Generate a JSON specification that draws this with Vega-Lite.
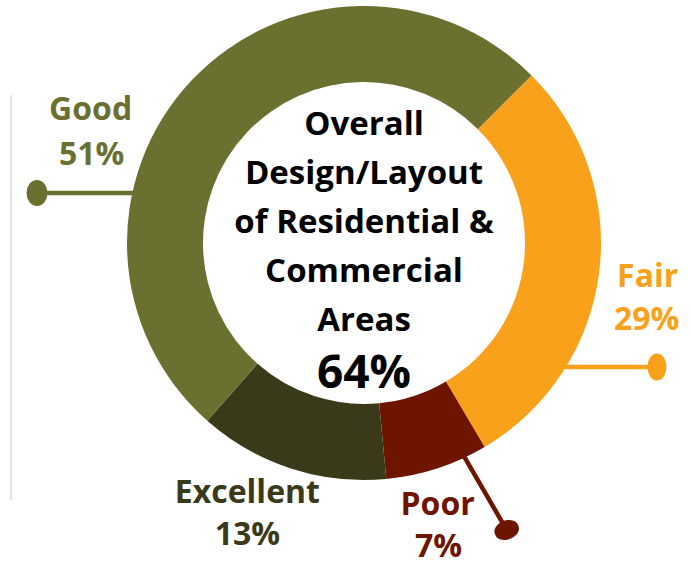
{
  "$schema": "https://vega.github.io/schema/vega-lite/v6.json",
  "autosize": {"type": "none"},
  "width": 654,
  "height": 486,
  "padding": {"left": 37, "top": 0, "right": 0, "bottom": 76},
  "background": "white",
  "config": {"view": {"stroke": null}, "text": {"font": "Open Sans", "fontWeight": "bold"}},
  "data": {"values": [
    {"cat": "Fair", "pct": 0.29, "rank": 1},
    {"cat": "Poor", "pct": 0.07, "rank": 2},
    {"cat": "Excellent", "pct": 0.13, "rank": 3},
    {"cat": "Good", "pct": 0.51, "rank": 4}
  ]},
  "layer": [
    {
      "transform": [{"filter": "datum.cat === 'Good'"}],
      "mark": {"type": "point", "shape": "M -3.53 -1.48 L -3.53 2.57", "size": 40000, "filled": false, "fill": null, "stroke": "#D9D9D9", "strokeWidth": 1.5, "opacity": 1},
      "encoding": {}
    },
    {
      "transform": [{"filter": "datum.cat === 'Good'"}],
      "mark": {"type": "point", "shape": "M -3.27 -0.5 L -2.20 -0.5 M -3.3525 -0.5 A 0.0825 0.1075 0 1 0 -3.1875 -0.5 A 0.0825 0.1075 0 1 0 -3.3525 -0.5 Z", "size": 40000, "filled": true, "fill": "#6B7030", "stroke": "#6B7030", "strokeWidth": 4.5, "opacity": 1},
      "encoding": {}
    },
    {
      "transform": [{"filter": "datum.cat === 'Fair'"}],
      "mark": {"type": "point", "shape": "M 1.90 1.24 L 2.93 1.24 M 2.8575 1.24 A 0.0725 0.1125 0 1 0 3.0025 1.24 A 0.0725 0.1125 0 1 0 2.8575 1.24 Z", "size": 40000, "filled": true, "fill": "#F9A11B", "stroke": "#F9A11B", "strokeWidth": 4.5, "opacity": 1},
      "encoding": {}
    },
    {
      "transform": [{"filter": "datum.cat === 'Poor'"}],
      "mark": {"type": "point", "shape": "M 0.96 2.063 L 1.427 2.87 M 1.3307 2.9051 A 0.1025 0.0725 -20 1 0 1.5233 2.8349 A 0.1025 0.0725 -20 1 0 1.3307 2.9051 Z", "size": 40000, "filled": true, "fill": "#6E1500", "stroke": "#6E1500", "strokeWidth": 4.5, "opacity": 1},
      "encoding": {}
    },
    {
      "mark": {"type": "arc", "innerRadius": 161, "outerRadius": 237},
      "encoding": {
        "theta": {"field": "pct", "type": "quantitative", "stack": true, "scale": {"range": [0.7853981634, 7.0685834706]}},
        "order": {"field": "rank", "type": "quantitative"},
        "color": {"field": "cat", "type": "nominal", "scale": {"domain": ["Fair", "Poor", "Excellent", "Good"], "range": ["#F9A11B", "#6E1500", "#3A3A1A", "#6B7030"]}, "legend": null}
      }
    },
    {
      "mark": {"type": "text", "radius": 290, "dx": -4, "dy": -2, "fontSize": 32, "align": "center", "baseline": "middle"},
      "encoding": {
        "theta": {"field": "pct", "type": "quantitative", "stack": true},
        "order": {"field": "rank", "type": "quantitative"},
        "color": {"field": "cat", "type": "nominal", "legend": null},
        "text": {"condition": {"test": "datum.cat === 'Fair'", "field": "cat", "type": "nominal"}, "value": ""}
      }
    },
    {
      "mark": {"type": "text", "radius": 290, "dx": -5, "dy": 41, "fontSize": 32, "align": "center", "baseline": "middle"},
      "encoding": {
        "theta": {"field": "pct", "type": "quantitative", "stack": true},
        "order": {"field": "rank", "type": "quantitative"},
        "color": {"field": "cat", "type": "nominal", "legend": null},
        "text": {"condition": {"test": "datum.cat === 'Fair'", "field": "pct", "type": "quantitative", "format": ".0%"}, "value": ""}
      }
    },
    {
      "mark": {"type": "text", "radius": 290, "dx": -16, "dy": -14, "fontSize": 32, "align": "center", "baseline": "middle"},
      "encoding": {
        "theta": {"field": "pct", "type": "quantitative", "stack": true},
        "order": {"field": "rank", "type": "quantitative"},
        "color": {"field": "cat", "type": "nominal", "legend": null},
        "text": {"condition": {"test": "datum.cat === 'Poor'", "field": "cat", "type": "nominal"}, "value": ""}
      }
    },
    {
      "mark": {"type": "text", "radius": 290, "dx": -15, "dy": 28, "fontSize": 32, "align": "center", "baseline": "middle"},
      "encoding": {
        "theta": {"field": "pct", "type": "quantitative", "stack": true},
        "order": {"field": "rank", "type": "quantitative"},
        "color": {"field": "cat", "type": "nominal", "legend": null},
        "text": {"condition": {"test": "datum.cat === 'Poor'", "field": "pct", "type": "quantitative", "format": ".0%"}, "value": ""}
      }
    },
    {
      "mark": {"type": "text", "radius": 290, "dx": -27, "dy": -26, "fontSize": 32, "align": "center", "baseline": "middle"},
      "encoding": {
        "theta": {"field": "pct", "type": "quantitative", "stack": true},
        "order": {"field": "rank", "type": "quantitative"},
        "color": {"field": "cat", "type": "nominal", "legend": null},
        "text": {"condition": {"test": "datum.cat === 'Excellent'", "field": "cat", "type": "nominal"}, "value": ""}
      }
    },
    {
      "mark": {"type": "text", "radius": 290, "dx": -27, "dy": 16, "fontSize": 32, "align": "center", "baseline": "middle"},
      "encoding": {
        "theta": {"field": "pct", "type": "quantitative", "stack": true},
        "order": {"field": "rank", "type": "quantitative"},
        "color": {"field": "cat", "type": "nominal", "legend": null},
        "text": {"condition": {"test": "datum.cat === 'Excellent'", "field": "pct", "type": "quantitative", "format": ".0%"}, "value": ""}
      }
    },
    {
      "mark": {"type": "text", "radius": 290, "dx": -62, "dy": 66, "fontSize": 32, "align": "center", "baseline": "middle"},
      "encoding": {
        "theta": {"field": "pct", "type": "quantitative", "stack": true},
        "order": {"field": "rank", "type": "quantitative"},
        "color": {"field": "cat", "type": "nominal", "legend": null},
        "text": {"condition": {"test": "datum.cat === 'Good'", "field": "cat", "type": "nominal"}, "value": ""}
      }
    },
    {
      "mark": {"type": "text", "radius": 290, "dx": -61, "dy": 111, "fontSize": 32, "align": "center", "baseline": "middle"},
      "encoding": {
        "theta": {"field": "pct", "type": "quantitative", "stack": true},
        "order": {"field": "rank", "type": "quantitative"},
        "color": {"field": "cat", "type": "nominal", "legend": null},
        "text": {"condition": {"test": "datum.cat === 'Good'", "field": "pct", "type": "quantitative", "format": ".0%"}, "value": ""}
      }
    },
    {
      "data": {"values": [{"score": 0.64}]},
      "mark": {"type": "text", "text": ["Overall", "Design/Layout", "of Residential &", "Commercial", "Areas"], "lineHeight": 49, "dy": -118, "fontSize": 33, "color": "#000000", "align": "center", "baseline": "middle"},
      "encoding": {}
    },
    {
      "data": {"values": [{"score": 0.64}]},
      "mark": {"type": "text", "dy": 131, "fontSize": 46, "color": "#000000", "align": "center", "baseline": "middle"},
      "encoding": {"text": {"field": "score", "type": "quantitative", "format": ".0%"}}
    }
  ]
}
